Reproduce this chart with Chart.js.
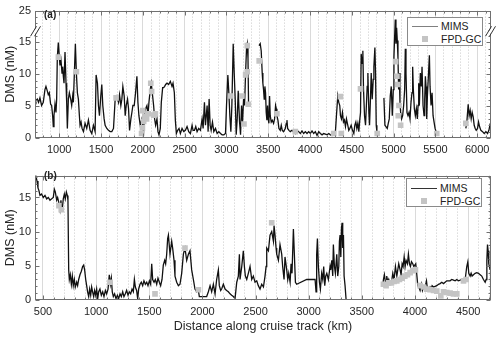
<!DOCTYPE html>
<html>
<head>
<meta charset="UTF-8">
<title>DMS along cruise track</title>
<script src="https://cdn.jsdelivr.net/npm/chart.js"></script>
<style>
    body { margin: 0; background: #fff; font-family: "Liberation Sans", Arial, sans-serif; }
    .wrap { position: relative; width: 500px; height: 337px; overflow: hidden; }
    canvas { position: absolute; left: 0; }
    #chartA { top: 0; }
    #chartB { top: 165px; }
    .tag { position: absolute; left: 44px; font-size: 10px; font-weight: bold; color: #222; }
    .legend { position: absolute; width: 74px; height: 27px; border: 1px solid #8a8a8a; background: #fff; font-size: 10.5px; color: #222; }
    .legend .row { position: absolute; left: 0; width: 74px; height: 12px; }
    .legend .line { position: absolute; left: 4px; width: 26px; top: 6px; height: 0; border-top: 1px solid #333; }
    .legend .sq { position: absolute; left: 14px; top: 3px; width: 6px; height: 6px; background: #c4c4c4; }
    .legend .txt { position: absolute; left: 33px; top: 0; line-height: 12px; white-space: nowrap; }
</style>
</head>
<body>
<div class="wrap">
    <canvas id="chartA" width="500" height="165"></canvas>
    <canvas id="chartB" width="500" height="172"></canvas>
    <div class="tag" style="top: 9px;">(a)</div>
    <div class="tag" style="top: 170px;">(b)</div>
    <div class="legend" style="left: 407px; top: 17px;">
        <div class="row" style="top: 2px;"><div class="line" style="border-top-color: #808080;"></div><div class="txt">MIMS</div></div>
        <div class="row" style="top: 15px;"><div class="sq"></div><div class="txt">FPD-GC</div></div>
    </div>
    <div class="legend" style="left: 406px; top: 178px;">
        <div class="row" style="top: 3px;"><div class="line"></div><div class="txt">MIMS</div></div>
        <div class="row" style="top: 16px;"><div class="sq"></div><div class="txt">FPD-GC</div></div>
    </div>
</div>

<script>
    // ---- panel (a): MIMS trace, distance (km) / DMS (nM); null = gap in record
    var mimsAx = [713,721,737,753,769,789,809,829,841,857,
        869,881,897,909,921,929,937,949,961,969,
        977,989,1001,1009,1021,1033,1041,1049,1057,1069,
        1081,1089,1097,1109,1121,1137,1149,1161,1169,1181,
        1193,1205,1217,1229,1241,1249,1261,1273,1289,1309,
        1329,1349,1369,1389,1409,1429,1441,1457,1469,1481,
        1497,1509,1521,1537,1549,1569,1589,1609,1629,1649,
        1669,1689,1709,1721,1737,1749,1761,1777,1789,1801,
        1817,1829,1841,1857,1869,1881,1897,1913,1929,1941,
        1953,1969,1989,2001,2009,2021,2033,2049,2061,2073,
        2089,2101,2113,2129,2141,2153,2169,2181,2193,2209,
        2221,2237,2249,2261,2273,2289,2309,2329,2349,2361,
        2377,2389,2401,2417,2433,2449,2469,2489,2509,2529,
        2549,2569,2589,2601,2617,2633,2649,2669,2689,2709,
        2721,2737,2749,2769,2781,2793,2805,2817,2833,2849,
        2869,2889,2909,2929,2949,2969,2989,3001,3017,3029,
        3041,3053,3065,3081,3093,3105,3117,3129,3141,3157,
        3169,3181,3193,3205,3217,3229,3241,3249,3258,3265,
        3320,
        3390,3404,3416,3428,3436,3444,3452,3460,3468,3476,
        3484,3492,3500,3508,3516,3524,3536,3548,3564,3576,
        3588,3596,3604,3616,3628,3644,3656,3668,3684,3704,
        3716,3724,3732,3748,3764,3784,3804,3824,3844,3864,
        3884,3904,3924,3944,3964,3984,4004,4024,4044,4064,
        4084,4104,4124,4144,4164,4184,4204,4224,4244,4264,
        4284,4304,4316,4332,4344,4356,4364,4376,4388,4400,
        4412,4424,4436,4452,4464,4476,4492,4508,4524,4536,
        4548,4560,4572,4584,4596,4604,4612,4624,4632,4640,
        4652,4664,4676,4684,4692,4704,4712,4724,4732,4744,
        4756,4764,4776,4784,4792,4800,
        4840,
        4884,4896,4908,4924,4936,4948,4960,4972,4984,4996,
        5004,5012,5020,5028,5036,5044,5052,5060,5068,5076,
        5084,5096,5108,5120,5132,5140,5148,5160,5172,5184,
        5196,5208,5220,5228,5236,5248,5260,5272,5284,5292,
        5300,5308,5320,5332,5340,5352,5364,5372,5380,5388,
        5396,5404,5416,5428,5436,5448,5460,5472,5484,5496,
        5508,5520,
        5700,
        5864,5876,5892,5904,5916,5928,5940,5952,5964,5976,
        5988,6004,6016,6028,6044,6064,6084,6104,6124,6140,6156];
    var mimsAy = [6.1,5.8,6.1,5.6,6.3,5.1,5.6,7.6,8.1,7.4,
        6.8,7.1,5.3,5.1,3.5,1.8,3.5,5.3,4.0,6.1,
        12.7,15.0,12.7,11.4,12.2,10.2,11.2,9.7,8.6,13.5,
        8.6,5.6,1.5,6.1,7.1,6.1,5.1,6.6,5.6,10.2,
        14.8,10.2,7.1,6.1,3.5,2.0,2.5,1.5,1.0,2.3,
        1.5,2.8,1.2,0.7,2.0,1.0,9.9,8.6,5.1,3.5,
        6.6,8.4,5.1,3.0,2.0,1.5,1.2,1.0,1.0,1.5,
        6.1,6.6,5.6,6.8,5.1,6.1,8.1,6.6,3.5,5.1,
        6.1,4.6,1.2,3.0,4.0,5.1,5.1,7.1,9.7,5.6,
        3.5,2.0,3.0,1.5,1.0,4.0,4.6,5.1,3.5,5.6,
        7.6,8.6,7.1,5.1,3.0,2.0,3.0,1.0,0.5,1.5,
        5.6,7.9,7.9,8.1,8.4,8.6,8.4,8.9,8.1,8.6,
        7.1,2.8,0.7,1.2,1.5,0.7,1.5,1.0,1.2,1.8,
        1.0,0.7,2.0,1.2,1.2,1.8,1.0,1.5,1.2,3.0,
        1.5,5.6,2.0,5.1,1.0,6.1,2.0,1.2,2.5,1.0,
        1.5,0.7,1.0,0.7,0.5,0.5,0.7,5.1,9.9,7.1,
        3.5,1.0,5.1,14.8,10.2,6.1,0.5,3.0,7.4,2.5,
        0.5,5.1,2.5,6.1,5.1,10.2,14.2,14.8,12.5,5.0,
        null,
        14.5,14.8,13.7,10.2,8.6,7.6,6.1,8.1,7.1,4.0,
        2.8,5.1,3.0,2.3,6.6,3.5,2.5,2.8,2.3,3.0,
        5.1,4.6,3.5,2.8,1.5,1.2,2.0,1.2,1.0,1.5,
        2.3,2.8,1.5,1.2,1.0,1.2,1.0,0.7,1.2,1.0,
        0.7,1.1,0.7,1.0,0.7,1.0,0.7,1.1,0.7,1.0,
        0.4,1.0,0.7,0.5,0.7,0.6,0.5,0.7,0.5,0.4,
        0.5,1.0,3.5,6.6,5.6,5.1,3.5,3.0,4.0,2.5,
        2.8,1.8,3.0,2.0,1.2,1.5,2.0,1.2,0.7,2.0,
        2.5,1.5,2.3,1.0,3.0,4.0,13.2,11.7,13.7,7.6,
        3.5,2.0,5.6,8.1,10.2,4.0,2.0,6.6,10.2,6.1,
        9.2,11.2,14.2,10.2,2.0,1.0,
        null,
        6.3,2.0,1.8,1.5,2.3,3.0,6.6,8.1,3.5,7.6,
        12.7,15.8,18.6,14.8,17.3,15.3,12.7,7.6,10.2,5.6,
        4.0,3.0,3.5,5.1,7.6,14.0,10.2,4.0,3.5,4.0,
        3.0,5.6,7.1,11.2,7.6,4.6,3.5,4.6,3.0,5.1,
        8.6,5.1,10.2,8.1,11.2,5.1,3.5,6.1,9.7,8.1,
        3.0,6.6,9.7,13.0,8.1,5.1,7.1,3.5,2.5,1.5,
        1.0,0.7,
        null,
        1.5,2.5,5.3,3.5,4.3,3.0,4.0,3.3,2.0,1.5,
        1.2,1.5,2.5,1.8,1.2,1.0,0.7,1.0,0.7,1.2,2.3];

    // ---- panel (a): FPD-GC discrete samples
    var fpdAx = [990,1205,1680,1985,1995,2000,2010,2025,2045,2065,2095,2105,2130,2150,
        3050,3185,3210,3230,3249,3249,3262,3392,3604,3824,4284,4364,4374,4604,4804,
        5024,5040,5048,5056,5064,5084,5516,5864];
    var fpdAy = [12.7,10.4,6.3,0.7,1.6,4.3,2.6,3.4,3.0,3.8,8.6,7.3,3.6,3.8,
        6.6,6.6,2.2,9.9,10.4,14.5,5.3,12.1,3.8,1.0,0.7,6.5,0.7,7.7,0.7,
        12.0,9.7,8.4,3.5,5.1,2.0,0.7,2.3];

    // ---- panel (b): MIMS trace
    var mimsBx = [425,434,444,453,462,472,487,503,519,535,
        550,566,582,597,607,616,629,638,647,660,
        669,679,691,701,710,720,729,735,742,748,
        757,767,776,785,795,804,817,826,836,848,
        861,873,883,892,902,911,920,930,939,949,
        958,967,977,986,996,1005,1015,1024,1036,1049,
        1062,1074,1087,1099,1112,1124,1134,1143,1152,1162,
        1174,1187,1200,1212,1225,1237,1250,1262,1275,1287,
        1300,1312,1325,1338,1350,1360,1369,1381,1391,1400,
        1413,1425,1438,1450,1463,1476,1488,1501,1513,1523,
        1532,1545,1557,1570,1582,1595,1607,1620,1632,1645,
        1654,1664,1673,1680,1695,1711,1720,1733,1742,1758,
        1774,1789,1805,1821,1836,1852,1868,1883,1899,1915,
        1930,1946,1962,1971,1977,2040,2056,2072,2087,2103,
        2119,2134,2150,2159,2172,2181,2197,2213,2228,2244,
        2260,2275,2291,2307,2323,2338,2348,2354,2370,2385,
        2395,2404,2417,2432,2448,2464,2479,2495,2511,2526,
        2542,2558,2574,2589,2599,2605,2621,2636,2652,2668,
        2674,2683,2693,2699,2715,2730,2746,2755,2768,2777,
        2793,2803,2812,2825,2834,2843,2856,2865,2875,2887,
        2981,3060,3069,3075,3082,3091,3101,3110,3122,3132,
        3141,3151,3160,3170,3185,3201,3207,3217,3226,3232,
        3242,3251,3264,3273,3283,3289,3295,3302,3308,3314,
        3320,3327,3333,3342,3352,
        3500,
        3697,3703,3712,3722,3728,3734,3744,3753,3766,3781,
        3791,3803,3816,3829,3838,3847,3860,3869,3879,3888,
        3898,3907,3916,3929,3938,3948,3957,3967,3979,3989,
        3998,4007,4017,4026,4036,4048,4061,4070,4080,4089,
        4098,4108,4117,4130,4142,4152,4161,4174,4189,4205,
        4221,4236,4252,4268,4283,4299,4315,4330,4346,4362,
        4378,4393,4409,4425,4440,4456,4472,4487,4497,4506,
        4519,4528,4537,4550,4566,4581,4597,4613,4628,4644,
        4660,4669,4676,4682,4688,4694,4707];
    var mimsBy = [17.8,18.1,17.4,16.4,16.0,15.3,15.5,15.0,15.3,14.8,
        15.0,14.6,14.8,15.0,16.2,15.8,14.6,15.0,14.4,13.2,
        14.6,12.9,14.8,15.5,14.8,15.8,15.3,14.6,4.4,3.0,
        3.7,2.3,3.5,2.1,3.0,1.9,2.6,2.1,3.0,3.7,
        4.2,4.9,5.1,4.4,3.0,2.1,1.2,0.5,1.6,0.7,
        1.9,1.2,0.5,1.4,0.7,1.6,0.2,1.2,1.6,0.7,
        1.2,0.5,1.4,0.9,1.6,3.7,2.3,3.2,1.2,0.5,
        0.9,0.2,0.7,0.2,0.9,0.5,1.2,0.5,0.9,1.4,
        0.7,1.2,0.9,1.6,1.2,3.0,1.9,1.4,0.2,1.6,
        2.3,2.6,2.1,2.8,2.3,2.6,2.1,2.8,2.3,5.3,
        3.0,2.6,3.0,2.3,3.2,2.6,2.1,3.0,5.1,5.8,
        5.3,6.7,9.0,9.5,6.7,8.6,7.6,5.8,3.5,2.6,
        2.1,2.3,3.9,6.7,7.6,5.8,6.7,7.2,4.4,3.0,
        1.6,1.2,1.4,0.5,0.5,0.5,1.2,2.1,1.2,2.3,
        0.9,3.0,4.4,2.1,1.4,1.6,2.3,1.6,1.4,1.2,
        0.9,0.7,0.5,0.2,2.6,3.5,6.7,3.0,4.9,7.2,
        4.9,3.5,3.0,3.9,4.9,3.0,3.5,2.6,2.8,2.1,
        1.6,2.3,1.9,3.5,4.9,7.6,7.2,9.5,10.0,8.6,
        10.9,9.5,7.6,6.7,5.8,8.1,6.7,4.9,3.0,6.3,
        4.4,3.0,3.9,2.6,5.3,3.9,10.4,6.7,2.6,2.3,
        3.0,3.0,1.2,6.7,9.0,4.9,2.6,1.6,3.9,3.0,
        4.9,2.1,3.5,3.9,3.0,4.9,4.4,5.8,3.5,8.1,
        4.9,3.9,6.7,3.5,4.9,8.6,9.5,6.3,10.4,11.3,
        7.6,9.5,3.5,2.1,0,
        null,
        2.1,3.0,3.7,2.6,1.9,3.5,2.6,3.0,2.3,2.8,
        3.9,3.0,4.9,3.5,4.4,5.3,4.4,3.7,5.3,4.9,
        6.3,4.9,5.8,5.3,6.7,5.3,4.9,5.6,5.3,4.9,
        5.1,5.3,3.7,2.1,1.9,1.4,2.3,1.4,1.9,1.6,
        2.1,2.8,1.6,1.4,1.9,1.6,2.1,1.9,2.0,2.1,
        2.3,2.4,2.6,2.4,2.6,2.8,2.8,2.8,3.0,2.9,
        2.8,3.0,2.8,2.9,3.0,2.8,3.0,4.9,5.6,3.9,
        3.5,3.9,3.5,3.7,3.9,4.0,3.9,3.7,3.5,3.0,
        2.6,3.0,5.8,8.1,7.2,5.3,4.4];

    // ---- panel (b): FPD-GC discrete samples
    var fpdBx = [650,672,1131,1554,1836,1962,2652,
        3703,3728,3753,3778,3803,3829,3854,3879,3904,3929,3954,3979,4004,
        4048,4080,4111,4142,4174,4205,4243,4268,4299,4330,4362,4393,4456,4481];
    var fpdBy = [13.8,13.2,2.6,0.9,7.6,1.5,11.3,
        2.3,2.1,2.5,2.5,2.7,2.8,3.0,3.2,3.5,3.7,4.0,4.3,4.4,
        2.1,1.9,1.6,1.5,1.4,1.3,0.6,1.2,1.1,1.0,0.9,0.9,2.8,3.0];

    // axis ranges and tick labels
    var xRangeA = [710, 6165];
    var xRangeB = [425, 4715];
    var yTicksA = [0, 5, 10, 15, 20];
    var yLabelsA = ['0', '5', '10', '15', '25'];   // broken axis: top tick reads 25
    var yTicksB = [0, 5, 10, 15];
    var yLabelsB = ['0', '5', '10', '15'];

    var FONT = '"Liberation Sans", Arial, sans-serif';
    var TEXT = '#262626';

    // box, inward ticks and axis-break marks
    var framePlugin = {
        id: 'frame',
        afterDraw: function (chart, args, opts) {
            var ctx = chart.ctx, a = chart.chartArea;
            var xs = chart.scales.x, ys = chart.scales.y;
            var L = Math.round(a.left) + 0.5, R = Math.round(a.right) - 0.5;
            var T = Math.round(a.top) + 0.5, B = Math.round(a.bottom) - 0.5;
            ctx.save();
            ctx.strokeStyle = '#707070';
            ctx.lineWidth = 1;
            ctx.beginPath();
            var v, p, len;
            for (v = Math.ceil(xs.min / 100) * 100; v <= xs.max; v += 100) {
                p = Math.round(xs.getPixelForValue(v)) + 0.5;
                len = v % 500 === 0 ? 4 : 2;
                ctx.moveTo(p, B); ctx.lineTo(p, B - len);
                ctx.moveTo(p, T); ctx.lineTo(p, T + len);
            }
            for (v = 0; v <= ys.max; v += 1) {
                p = Math.round(ys.getPixelForValue(v)) + 0.5;
                len = v % 5 === 0 ? 4 : 2;
                ctx.moveTo(L, p); ctx.lineTo(L + len, p);
                ctx.moveTo(R, p); ctx.lineTo(R - len, p);
            }
            ctx.stroke();
            ctx.strokeRect(L, T, R - L, B - T);
            if (opts.breakAt) {
                var yb = ys.getPixelForValue(opts.breakAt);
                [L, R].forEach(function (xb) {
                    ctx.fillStyle = '#fff';
                    ctx.beginPath();
                    ctx.moveTo(xb - 4, yb + 3); ctx.lineTo(xb + 1, yb - 5);
                    ctx.lineTo(xb + 4, yb - 5); ctx.lineTo(xb - 1, yb + 3);
                    ctx.closePath(); ctx.fill();
                    ctx.strokeStyle = '#333';
                    ctx.beginPath();
                    ctx.moveTo(xb - 5, yb + 4); ctx.lineTo(xb + 1, yb - 6);
                    ctx.moveTo(xb - 1, yb + 4); ctx.lineTo(xb + 5, yb - 6);
                    ctx.stroke();
                });
            }
            ctx.restore();
        }
    };

    function xy(xs, ys) {
        return xs.map(function (x, i) { return { x: x, y: ys[i] }; });
    }

    function makePanel(id, cfg) {
        return new Chart(document.getElementById(id), {
            type: 'line',
            data: {
                datasets: [{
                    label: 'MIMS',
                    data: xy(cfg.mx, cfg.my),
                    borderColor: '#111',
                    borderWidth: 1.3,
                    pointRadius: 0,
                    tension: 0,
                    spanGaps: false,
                    order: 2
                }, {
                    label: 'FPD-GC',
                    data: xy(cfg.fx, cfg.fy),
                    showLine: false,
                    pointStyle: 'rect',
                    pointRadius: 4,
                    pointBackgroundColor: '#c4c4c4',
                    pointBorderWidth: 0,
                    order: 1
                }]
            },
            options: {
                responsive: false,
                animation: false,
                events: [],
                layout: { padding: { top: cfg.padTop, right: 9, left: 0, bottom: 0 } },
                plugins: {
                    legend: { display: false },
                    tooltip: { enabled: false },
                    frame: { breakAt: cfg.breakAt }
                },
                scales: {
                    x: {
                        type: 'linear',
                        min: cfg.xRange[0],
                        max: cfg.xRange[1],
                        afterBuildTicks: function (s) {
                            var t = [];
                            for (var v = Math.ceil(cfg.xRange[0] / 100) * 100; v <= cfg.xRange[1]; v += 100) t.push({ value: v });
                            s.ticks = t;
                        },
                        afterFit: function (s) { s.height = cfg.xHeight; },
                        ticks: {
                            autoSkip: false,
                            maxRotation: 0,
                            padding: 5,
                            color: TEXT,
                            font: { family: FONT, size: 11 },
                            callback: function (v) { return v % 500 === 0 ? String(v) : ''; }
                        },
                        grid: {
                            drawTicks: false,
                            lineWidth: 1,
                            color: function (c) { return c.tick && c.tick.value % 500 === 0 ? '#dadada' : '#c8c8c8'; }
                        },
                        border: {
                            display: false,
                            dash: function (c) { return c.tick && c.tick.value % 500 === 0 ? [] : [1, 2]; }
                        },
                        title: {
                            display: !!cfg.xTitle,
                            text: cfg.xTitle || '',
                            color: TEXT,
                            font: { family: FONT, size: 12.5 },
                            padding: { top: 0, bottom: 3 }
                        }
                    },
                    y: {
                        min: 0,
                        max: cfg.yMax,
                        afterBuildTicks: function (s) {
                            s.ticks = cfg.yTicks.map(function (v) { return { value: v }; });
                        },
                        afterFit: function (s) { s.width = 35; },
                        ticks: {
                            padding: 4,
                            color: TEXT,
                            font: { family: FONT, size: 11 },
                            callback: function (v, i) { return cfg.yLabels[i]; }
                        },
                        grid: { display: false, drawTicks: false },
                        border: { display: false },
                        title: {
                            display: true,
                            text: 'DMS (nM)',
                            color: TEXT,
                            font: { family: FONT, size: 12.5 },
                            padding: { top: 3, bottom: 0 }
                        }
                    }
                }
            },
            plugins: [framePlugin]
        });
    }

    makePanel('chartA', {
        mx: mimsAx, my: mimsAy, fx: fpdAx, fy: fpdAy,
        xRange: xRangeA, yMax: 20, yTicks: yTicksA, yLabels: yLabelsA,
        padTop: 8, xHeight: 27, breakAt: 16.6
    });

    makePanel('chartB', {
        mx: mimsBx, my: mimsBy, fx: fpdBx, fy: fpdBy,
        xRange: xRangeB, yMax: 18.2, yTicks: yTicksB, yLabels: yLabelsB,
        padTop: 4, xHeight: 37, xTitle: 'Distance along cruise track (km)'
    });
</script>
</body>
</html>
